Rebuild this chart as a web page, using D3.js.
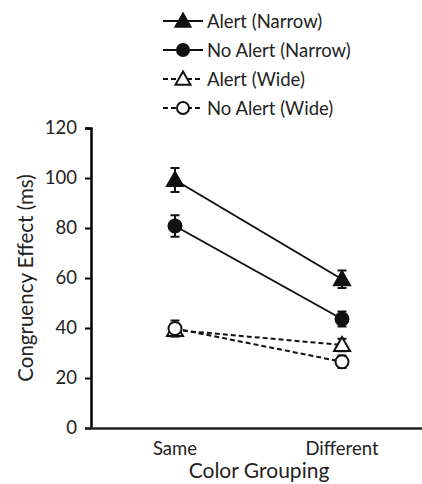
<!DOCTYPE html>
<html>
<head>
<meta charset="utf-8">
<script src="https://cdn.jsdelivr.net/npm/d3@7"></script>
<style>
  body { margin: 0; background: #fff; }
  svg { display: block; font-family: Lato, sans-serif; }
</style>
</head>
<body>
<div id="chart"></div>
<script>
'use strict';

var outerWidth = 422;
var outerHeight = 484;

// data
var groups = ['Same', 'Different'];
var seriesNames = ['Alert (Narrow)', 'No Alert (Narrow)', 'Alert (Wide)', 'No Alert (Wide)'];
var alertNarrow = [99.2, 59.5];
var alertNarrowErr = [4.8, 3.5];
var noAlertNarrow = [80.8, 43.6];
var noAlertNarrowErr = [4.3, 3];
var alertWide = [39.2, 33.2];
var alertWideErr = [2.5, 2.5];
var noAlertWide = [39.8, 26.5];
var noAlertWideErr = [3.2, 2.5];
var yTicks = [0, 20, 40, 60, 80, 100, 120];

var series = [
  {name: seriesNames[0], values: alertNarrow, err: alertNarrowErr, shape: 'tri', fill: '#111', dash: null},
  {name: seriesNames[1], values: noAlertNarrow, err: noAlertNarrowErr, shape: 'circ', fill: '#111', dash: null},
  {name: seriesNames[2], values: alertWide, err: alertWideErr, shape: 'tri', fill: '#fff', dash: '5,3'},
  {name: seriesNames[3], values: noAlertWide, err: noAlertWideErr, shape: 'circ', fill: '#fff', dash: '5,3'}
];

var svg = d3.select('#chart').append('svg')
  .attr('width', outerWidth)
  .attr('height', outerHeight);

var xScale = d3.scalePoint()
  .domain(groups)
  .range([175, 342]);

var yScale = d3.scaleLinear()
  .domain([0, 120])
  .range([428, 128]);

//y axis
var yAxis = svg.append('g')
  .attr('transform', 'translate(91,0)')
  .call(d3.axisLeft(yScale).tickValues(yTicks).tickSize(6).tickPadding(8));
yAxis.select('.domain').attr('d', 'M-6,128.5H0.5V428.5');
yAxis.selectAll('line').attr('stroke-width', 2);
yAxis.select('.domain').attr('stroke-width', 2.5);
yAxis.selectAll('text').attr('font-size', 18.5).attr('font-family', 'Lato, sans-serif').attr('fill', '#222');

//x axis: just a line plus labels
svg.append('line')
  .attr('x1', 85).attr('x2', 422)
  .attr('y1', 428.5).attr('y2', 428.5)
  .attr('stroke', '#222').attr('stroke-width', 2.5);

svg.selectAll('.xlab').data(groups).enter().append('text')
  .attr('class', 'xlab')
  .attr('x', function(d){ return xScale(d); })
  .attr('y', 455)
  .attr('text-anchor', 'middle')
  .attr('font-size', 18.5)
  .attr('fill', '#222')
  .text(function(d){ return d; });

svg.append('text')
  .attr('x', 259).attr('y', 478)
  .attr('text-anchor', 'middle')
  .attr('font-size', 21)
  .attr('fill', '#222')
  .text('Color Grouping');

svg.append('text')
  .attr('transform', 'translate(33,278) rotate(-90)')
  .attr('text-anchor', 'middle')
  .attr('font-size', 20.5)
  .attr('fill', '#222')
  .text('Congruency Effect (ms)');

function drawMarker(g, shape, fill, r) {
  if (shape === 'circ') {
    g.append('circle').attr('r', r)
      .attr('fill', fill).attr('stroke', '#111').attr('stroke-width', 2);
  } else {
    var s = r + 1.5;
    g.append('path')
      .attr('d', 'M0,' + (-s) + 'L' + s + ',' + (s * 0.75) + 'L' + (-s) + ',' + (s * 0.75) + 'Z')
      .attr('fill', fill).attr('stroke', '#111').attr('stroke-width', 2)
      .attr('stroke-linejoin', 'miter');
  }
}

var line = d3.line()
  .x(function(d, i){ return xScale(groups[i]); })
  .y(function(d){ return yScale(d); });

// lines first, then error bars and markers on top
series.forEach(function(s){
  svg.append('path')
    .attr('d', line(s.values))
    .attr('fill', 'none')
    .attr('stroke', '#111')
    .attr('stroke-width', 2)
    .attr('stroke-dasharray', s.dash);
});

series.forEach(function(s){
  s.values.forEach(function(v, i){
    var x = xScale(groups[i]);
    var eb = svg.append('g').attr('stroke', '#111').attr('stroke-width', 2);
    eb.append('line').attr('x1', x).attr('x2', x)
      .attr('y1', yScale(v + s.err[i])).attr('y2', yScale(v - s.err[i]));
    [v + s.err[i], v - s.err[i]].forEach(function(e){
      eb.append('line').attr('x1', x - 4.5).attr('x2', x + 4.5)
        .attr('y1', yScale(e)).attr('y2', yScale(e));
    });
    var g = svg.append('g').attr('transform', 'translate(' + x + ',' + yScale(v) + ')');
    drawMarker(g, s.shape, s.fill, 6.5);
  });
});

//legend
var legend = svg.selectAll('.legend').data(series).enter().append('g')
  .attr('class', 'legend')
  .attr('transform', function(d, i){ return 'translate(163,' + (21 + i * 29) + ')'; });

legend.append('line')
  .attr('x1', 0).attr('x2', 40)
  .attr('stroke', '#111').attr('stroke-width', 2)
  .attr('stroke-dasharray', function(d){ return d.dash ? '5,3' : null; });

legend.each(function(d){
  var g = d3.select(this).append('g').attr('transform', 'translate(20,0)');
  drawMarker(g, d.shape, d.fill, 6);
});

legend.append('text')
  .attr('x', 44).attr('y', 6.5)
  .attr('font-size', 18.5)
  .attr('fill', '#222')
  .text(function(d){ return d.name; });
</script>
</body>
</html>
